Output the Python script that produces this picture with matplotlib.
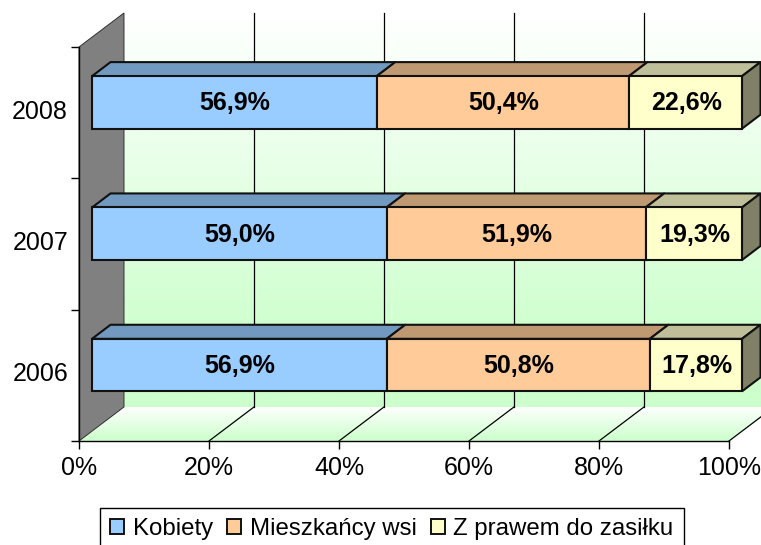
import matplotlib
matplotlib.use('Agg')
import matplotlib.pyplot as plt
import numpy as np
from matplotlib.patches import Polygon, Patch
from matplotlib.colors import LinearSegmentedColormap

plt.rcParams['font.family'] = ['Liberation Sans', 'DejaVu Sans']

years = ['2006', '2007', '2008']
series = ['Kobiety', 'Mieszkańcy wsi', 'Z prawem do zasiłku']
kobiety = [56.9, 59.0, 56.9]
wies = [50.8, 51.9, 50.4]
zasilek = [17.8, 19.3, 22.6]
labels_k = ['56,9%', '59,0%', '56,9%']
labels_w = ['50,8%', '51,9%', '50,4%']
labels_z = ['17,8%', '19,3%', '22,6%']
xticks = [0, 20, 40, 60, 80, 100]

front = ['#99CCFF', '#FFCC99', '#FFFFCC']
top = ['#7299BF', '#BF9972', '#BFBF99']
side = '#808066'

# depth of the walls and of the bars, in data units
wall_dx, wall_dy = 6.92, 0.259
bar_dx, bar_dy = 2.85, 0.107
shift_x, shift_y = 2.0, 0.078
bar_h = 0.40

W, H = 761, 545
fig = plt.figure(figsize=(W / 100, H / 100), dpi=100)
ax = fig.add_axes([79 / W, 1 - 441 / H, 650 / W, 394 / H])
ax.set_xlim(0, 100)
ax.set_ylim(-0.5, 2.5)
ax.set_facecolor('none')
for s in ['top', 'right']:
    ax.spines[s].set_visible(False)
for s in ['left', 'bottom']:
    ax.spines[s].set_linewidth(1.0)
    ax.spines[s].set_zorder(6)

# gradients for the walls, the back one gets solid before the floor
wall_cmap = LinearSegmentedColormap.from_list('w', [(0, '#FFFFFF'), (0.85, '#CCFFCC'), (1, '#CCFFCC')])
floor_cmap = LinearSegmentedColormap.from_list('f', ['#FFFFFF', '#CCFFCC'])
grad = np.linspace(0, 1, 256).reshape(-1, 1)

# back wall
x0, x1 = wall_dx, 100 + wall_dx
y0, y1 = -0.5 + wall_dy, 2.5 + wall_dy
ax.imshow(grad, cmap=wall_cmap, extent=[x0, x1, y0, y1], origin='upper', aspect='auto',
          zorder=1, clip_on=False, interpolation='bilinear')

# floor
floor = Polygon([(0, -0.5), (100, -0.5), (x1, y0), (x0, y0)], fc='none', ec='none', clip_on=False)
ax.add_patch(floor)
im = ax.imshow(grad, cmap=floor_cmap, extent=[0, x1, -0.5, y0], origin='upper', aspect='auto',
               zorder=1, interpolation='bilinear')
im.set_clip_path(floor)
im.set_clip_box(fig.bbox)
ax.set_xlim(0, 100)
ax.set_ylim(-0.5, 2.5)

# side wall
ax.add_patch(Polygon([(0, -0.5), (x0, y0), (x0, y1), (0, 2.5)], fc='#808080', ec='#303030',
                     lw=0.7, zorder=2, clip_on=False))

# gridlines
for t in xticks[1:]:
    ax.plot([t + wall_dx, t + wall_dx], [y0, y1], color='black', lw=0.9, zorder=2, clip_on=False)
    ax.plot([t, t + wall_dx], [-0.5, y0], color='black', lw=0.9, zorder=2, clip_on=False)

# bars as share of the row total
pos = np.arange(3) + shift_y
values = np.array([kobiety, wies, zasilek], dtype=float)
shares = values / values.sum(axis=0) * 100
texts = [labels_k, labels_w, labels_z]
left = np.zeros(3) + shift_x

for i in range(3):
    for j in range(3):
        l = left[j]
        r = l + shares[i][j]
        t = pos[j] + bar_h / 2
        ax.add_patch(Polygon([(l, t), (l + bar_dx, t + bar_dy), (r + bar_dx, t + bar_dy), (r, t)],
                             fc=top[i], ec='#111111', lw=1.5, zorder=3, clip_on=False, joinstyle='round'))
    ax.barh(pos, shares[i], left=left, height=bar_h, color=front[i], edgecolor='#111111',
            linewidth=1.5, zorder=4, clip_on=False)
    for j in range(3):
        ax.text(left[j] + shares[i][j] / 2 + 0.1, pos[j] - 0.007, texts[i][j], ha='center', va='center',
                fontsize=18, fontweight='bold', color='black', zorder=7)
    left = left + shares[i]

# right end of the stack
for j in range(3):
    b = pos[j] - bar_h / 2
    t = pos[j] + bar_h / 2
    ax.add_patch(Polygon([(left[j], b), (left[j] + bar_dx, b + bar_dy), (left[j] + bar_dx, t + bar_dy), (left[j], t)],
                         fc=side, ec='#111111', lw=1.5, zorder=3, clip_on=False))

ax.set_xticks(xticks)
ax.set_xticklabels(['%d%%' % t for t in xticks], fontsize=18)
ax.set_yticks([-0.5, 0.5, 1.5, 2.5], minor=False)
ax.set_yticklabels([])
ax.tick_params(axis='both', length=6, width=1.0, color='black')
ax.tick_params(axis='x', pad=5)
for j, y in enumerate(years):
    ax.annotate(y, xy=(0, j), xycoords=('axes fraction', 'data'), xytext=(-11, 1), textcoords='offset pixels',
                ha='right', va='center', fontsize=18)

handles = [Patch(fc=front[i], ec='#111111', lw=1.4) for i in range(3)]
fig.legend(handles, series, loc='lower left', bbox_to_anchor=(100 / W, -5 / H), bbox_transform=fig.transFigure,
           ncol=3, fontsize=17.3, fancybox=False, framealpha=1, edgecolor='black', borderaxespad=0,
           handlelength=0.58, handleheight=0.58, handletextpad=0.37, columnspacing=0.58,
           borderpad=0.42).get_frame().set_linewidth(1.0)

fig.savefig('out.png', dpi=100)
